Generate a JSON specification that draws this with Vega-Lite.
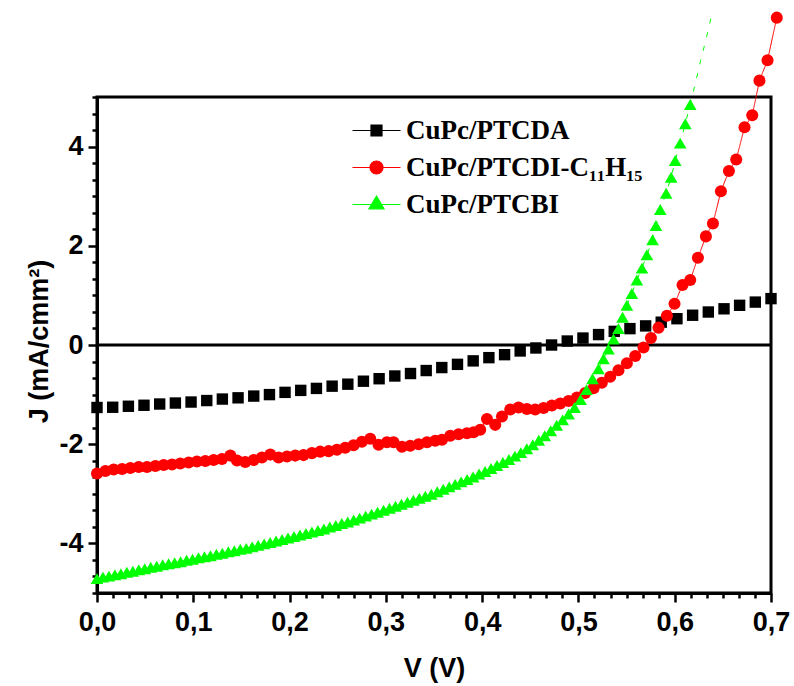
{
  "$schema": "https://vega.github.io/schema/vega-lite/v6.json",
  "autosize": {"type": "none"},
  "padding": {"left": 97, "top": 97, "right": 23, "bottom": 93},
  "width": 674,
  "height": 496,
  "background": "white",
  "config": {
    "view": {"stroke": "black", "strokeWidth": 3},
    "axis": {"grid": false}
  },
  "data": {"values": [
    {"series": "CuPc/PTCDA", "V": 0.0000, "J": -1.26},
    {"series": "CuPc/PTCDA", "V": 0.0163, "J": -1.255},
    {"series": "CuPc/PTCDA", "V": 0.0326, "J": -1.235},
    {"series": "CuPc/PTCDA", "V": 0.0488, "J": -1.215},
    {"series": "CuPc/PTCDA", "V": 0.0651, "J": -1.19},
    {"series": "CuPc/PTCDA", "V": 0.0814, "J": -1.17},
    {"series": "CuPc/PTCDA", "V": 0.0977, "J": -1.15},
    {"series": "CuPc/PTCDA", "V": 0.1140, "J": -1.12},
    {"series": "CuPc/PTCDA", "V": 0.1302, "J": -1.09},
    {"series": "CuPc/PTCDA", "V": 0.1465, "J": -1.065},
    {"series": "CuPc/PTCDA", "V": 0.1628, "J": -1.03},
    {"series": "CuPc/PTCDA", "V": 0.1791, "J": -1.0},
    {"series": "CuPc/PTCDA", "V": 0.1953, "J": -0.955},
    {"series": "CuPc/PTCDA", "V": 0.2116, "J": -0.915},
    {"series": "CuPc/PTCDA", "V": 0.2279, "J": -0.875},
    {"series": "CuPc/PTCDA", "V": 0.2442, "J": -0.83},
    {"series": "CuPc/PTCDA", "V": 0.2605, "J": -0.79},
    {"series": "CuPc/PTCDA", "V": 0.2767, "J": -0.73},
    {"series": "CuPc/PTCDA", "V": 0.2930, "J": -0.68},
    {"series": "CuPc/PTCDA", "V": 0.3093, "J": -0.625},
    {"series": "CuPc/PTCDA", "V": 0.3256, "J": -0.575},
    {"series": "CuPc/PTCDA", "V": 0.3419, "J": -0.515},
    {"series": "CuPc/PTCDA", "V": 0.3581, "J": -0.455},
    {"series": "CuPc/PTCDA", "V": 0.3744, "J": -0.39},
    {"series": "CuPc/PTCDA", "V": 0.3907, "J": -0.32},
    {"series": "CuPc/PTCDA", "V": 0.4070, "J": -0.255},
    {"series": "CuPc/PTCDA", "V": 0.4233, "J": -0.195},
    {"series": "CuPc/PTCDA", "V": 0.4395, "J": -0.12},
    {"series": "CuPc/PTCDA", "V": 0.4558, "J": -0.06},
    {"series": "CuPc/PTCDA", "V": 0.4721, "J": 0.0},
    {"series": "CuPc/PTCDA", "V": 0.4884, "J": 0.08},
    {"series": "CuPc/PTCDA", "V": 0.5047, "J": 0.14},
    {"series": "CuPc/PTCDA", "V": 0.5209, "J": 0.21},
    {"series": "CuPc/PTCDA", "V": 0.5372, "J": 0.275},
    {"series": "CuPc/PTCDA", "V": 0.5535, "J": 0.33},
    {"series": "CuPc/PTCDA", "V": 0.5698, "J": 0.385},
    {"series": "CuPc/PTCDA", "V": 0.5860, "J": 0.46},
    {"series": "CuPc/PTCDA", "V": 0.6023, "J": 0.53},
    {"series": "CuPc/PTCDA", "V": 0.6186, "J": 0.6},
    {"series": "CuPc/PTCDA", "V": 0.6349, "J": 0.665},
    {"series": "CuPc/PTCDA", "V": 0.6512, "J": 0.73},
    {"series": "CuPc/PTCDA", "V": 0.6674, "J": 0.8},
    {"series": "CuPc/PTCDA", "V": 0.6837, "J": 0.865},
    {"series": "CuPc/PTCDA", "V": 0.7000, "J": 0.935},

    {"series": "CuPc/PTCDI-C₁₁H₁₅", "V": 0.0000, "J": -2.59},
    {"series": "CuPc/PTCDI-C₁₁H₁₅", "V": 0.0087, "J": -2.54},
    {"series": "CuPc/PTCDI-C₁₁H₁₅", "V": 0.0173, "J": -2.51},
    {"series": "CuPc/PTCDI-C₁₁H₁₅", "V": 0.0260, "J": -2.50},
    {"series": "CuPc/PTCDI-C₁₁H₁₅", "V": 0.0346, "J": -2.48},
    {"series": "CuPc/PTCDI-C₁₁H₁₅", "V": 0.0433, "J": -2.46},
    {"series": "CuPc/PTCDI-C₁₁H₁₅", "V": 0.0519, "J": -2.46},
    {"series": "CuPc/PTCDI-C₁₁H₁₅", "V": 0.0606, "J": -2.44},
    {"series": "CuPc/PTCDI-C₁₁H₁₅", "V": 0.0692, "J": -2.42},
    {"series": "CuPc/PTCDI-C₁₁H₁₅", "V": 0.0779, "J": -2.41},
    {"series": "CuPc/PTCDI-C₁₁H₁₅", "V": 0.0865, "J": -2.39},
    {"series": "CuPc/PTCDI-C₁₁H₁₅", "V": 0.0952, "J": -2.37},
    {"series": "CuPc/PTCDI-C₁₁H₁₅", "V": 0.1038, "J": -2.35},
    {"series": "CuPc/PTCDI-C₁₁H₁₅", "V": 0.1125, "J": -2.34},
    {"series": "CuPc/PTCDI-C₁₁H₁₅", "V": 0.1211, "J": -2.32},
    {"series": "CuPc/PTCDI-C₁₁H₁₅", "V": 0.1298, "J": -2.30},
    {"series": "CuPc/PTCDI-C₁₁H₁₅", "V": 0.1385, "J": -2.23},
    {"series": "CuPc/PTCDI-C₁₁H₁₅", "V": 0.1454, "J": -2.33},
    {"series": "CuPc/PTCDI-C₁₁H₁₅", "V": 0.1540, "J": -2.36},
    {"series": "CuPc/PTCDI-C₁₁H₁₅", "V": 0.1627, "J": -2.32},
    {"series": "CuPc/PTCDI-C₁₁H₁₅", "V": 0.1713, "J": -2.27},
    {"series": "CuPc/PTCDI-C₁₁H₁₅", "V": 0.1800, "J": -2.21},
    {"series": "CuPc/PTCDI-C₁₁H₁₅", "V": 0.1886, "J": -2.27},
    {"series": "CuPc/PTCDI-C₁₁H₁₅", "V": 0.1973, "J": -2.25},
    {"series": "CuPc/PTCDI-C₁₁H₁₅", "V": 0.2059, "J": -2.23},
    {"series": "CuPc/PTCDI-C₁₁H₁₅", "V": 0.2145, "J": -2.22},
    {"series": "CuPc/PTCDI-C₁₁H₁₅", "V": 0.2232, "J": -2.18},
    {"series": "CuPc/PTCDI-C₁₁H₁₅", "V": 0.2318, "J": -2.15},
    {"series": "CuPc/PTCDI-C₁₁H₁₅", "V": 0.2405, "J": -2.14},
    {"series": "CuPc/PTCDI-C₁₁H₁₅", "V": 0.2491, "J": -2.11},
    {"series": "CuPc/PTCDI-C₁₁H₁₅", "V": 0.2578, "J": -2.07},
    {"series": "CuPc/PTCDI-C₁₁H₁₅", "V": 0.2664, "J": -2.02},
    {"series": "CuPc/PTCDI-C₁₁H₁₅", "V": 0.2751, "J": -1.95},
    {"series": "CuPc/PTCDI-C₁₁H₁₅", "V": 0.2838, "J": -1.89},
    {"series": "CuPc/PTCDI-C₁₁H₁₅", "V": 0.2924, "J": -2.01},
    {"series": "CuPc/PTCDI-C₁₁H₁₅", "V": 0.3011, "J": -1.96},
    {"series": "CuPc/PTCDI-C₁₁H₁₅", "V": 0.3080, "J": -1.96},
    {"series": "CuPc/PTCDI-C₁₁H₁₅", "V": 0.3167, "J": -2.05},
    {"series": "CuPc/PTCDI-C₁₁H₁₅", "V": 0.3253, "J": -2.03},
    {"series": "CuPc/PTCDI-C₁₁H₁₅", "V": 0.3340, "J": -2.00},
    {"series": "CuPc/PTCDI-C₁₁H₁₅", "V": 0.3427, "J": -1.96},
    {"series": "CuPc/PTCDI-C₁₁H₁₅", "V": 0.3513, "J": -1.93},
    {"series": "CuPc/PTCDI-C₁₁H₁₅", "V": 0.3583, "J": -1.91},
    {"series": "CuPc/PTCDI-C₁₁H₁₅", "V": 0.3669, "J": -1.83},
    {"series": "CuPc/PTCDI-C₁₁H₁₅", "V": 0.3755, "J": -1.80},
    {"series": "CuPc/PTCDI-C₁₁H₁₅", "V": 0.3842, "J": -1.78},
    {"series": "CuPc/PTCDI-C₁₁H₁₅", "V": 0.3911, "J": -1.76},
    {"series": "CuPc/PTCDI-C₁₁H₁₅", "V": 0.3980, "J": -1.71},
    {"series": "CuPc/PTCDI-C₁₁H₁₅", "V": 0.4050, "J": -1.49},
    {"series": "CuPc/PTCDI-C₁₁H₁₅", "V": 0.4136, "J": -1.61},
    {"series": "CuPc/PTCDI-C₁₁H₁₅", "V": 0.4206, "J": -1.44},
    {"series": "CuPc/PTCDI-C₁₁H₁₅", "V": 0.4292, "J": -1.30},
    {"series": "CuPc/PTCDI-C₁₁H₁₅", "V": 0.4378, "J": -1.26},
    {"series": "CuPc/PTCDI-C₁₁H₁₅", "V": 0.4465, "J": -1.29},
    {"series": "CuPc/PTCDI-C₁₁H₁₅", "V": 0.4551, "J": -1.30},
    {"series": "CuPc/PTCDI-C₁₁H₁₅", "V": 0.4638, "J": -1.27},
    {"series": "CuPc/PTCDI-C₁₁H₁₅", "V": 0.4724, "J": -1.22},
    {"series": "CuPc/PTCDI-C₁₁H₁₅", "V": 0.4811, "J": -1.18},
    {"series": "CuPc/PTCDI-C₁₁H₁₅", "V": 0.4897, "J": -1.13},
    {"series": "CuPc/PTCDI-C₁₁H₁₅", "V": 0.4984, "J": -1.06},
    {"series": "CuPc/PTCDI-C₁₁H₁₅", "V": 0.5070, "J": -0.97},
    {"series": "CuPc/PTCDI-C₁₁H₁₅", "V": 0.5157, "J": -0.87},
    {"series": "CuPc/PTCDI-C₁₁H₁₅", "V": 0.5243, "J": -0.76},
    {"series": "CuPc/PTCDI-C₁₁H₁₅", "V": 0.5330, "J": -0.64},
    {"series": "CuPc/PTCDI-C₁₁H₁₅", "V": 0.5416, "J": -0.51},
    {"series": "CuPc/PTCDI-C₁₁H₁₅", "V": 0.5503, "J": -0.37},
    {"series": "CuPc/PTCDI-C₁₁H₁₅", "V": 0.5590, "J": -0.22},
    {"series": "CuPc/PTCDI-C₁₁H₁₅", "V": 0.5676, "J": -0.05},
    {"series": "CuPc/PTCDI-C₁₁H₁₅", "V": 0.5753, "J": 0.14},
    {"series": "CuPc/PTCDI-C₁₁H₁₅", "V": 0.5832, "J": 0.35},
    {"series": "CuPc/PTCDI-C₁₁H₁₅", "V": 0.5919, "J": 0.59},
    {"series": "CuPc/PTCDI-C₁₁H₁₅", "V": 0.5998, "J": 0.83},
    {"series": "CuPc/PTCDI-C₁₁H₁₅", "V": 0.6081, "J": 1.21},
    {"series": "CuPc/PTCDI-C₁₁H₁₅", "V": 0.6161, "J": 1.31},
    {"series": "CuPc/PTCDI-C₁₁H₁₅", "V": 0.6241, "J": 1.76},
    {"series": "CuPc/PTCDI-C₁₁H₁₅", "V": 0.6324, "J": 2.19},
    {"series": "CuPc/PTCDI-C₁₁H₁₅", "V": 0.6397, "J": 2.45},
    {"series": "CuPc/PTCDI-C₁₁H₁₅", "V": 0.6480, "J": 3.10},
    {"series": "CuPc/PTCDI-C₁₁H₁₅", "V": 0.6563, "J": 3.51},
    {"series": "CuPc/PTCDI-C₁₁H₁₅", "V": 0.6639, "J": 3.74},
    {"series": "CuPc/PTCDI-C₁₁H₁₅", "V": 0.6725, "J": 4.39},
    {"series": "CuPc/PTCDI-C₁₁H₁₅", "V": 0.6805, "J": 4.63},
    {"series": "CuPc/PTCDI-C₁₁H₁₅", "V": 0.6880, "J": 5.33},
    {"series": "CuPc/PTCDI-C₁₁H₁₅", "V": 0.6964, "J": 5.74},
    {"series": "CuPc/PTCDI-C₁₁H₁₅", "V": 0.7060, "J": 6.60},

    {"series": "CuPc/PTCBI", "V": 0.0000, "J": -4.71},
    {"series": "CuPc/PTCBI", "V": 0.0062, "J": -4.68},
    {"series": "CuPc/PTCBI", "V": 0.0124, "J": -4.66},
    {"series": "CuPc/PTCBI", "V": 0.0186, "J": -4.63},
    {"series": "CuPc/PTCBI", "V": 0.0248, "J": -4.61},
    {"series": "CuPc/PTCBI", "V": 0.0310, "J": -4.58},
    {"series": "CuPc/PTCBI", "V": 0.0372, "J": -4.56},
    {"series": "CuPc/PTCBI", "V": 0.0434, "J": -4.53},
    {"series": "CuPc/PTCBI", "V": 0.0496, "J": -4.51},
    {"series": "CuPc/PTCBI", "V": 0.0558, "J": -4.48},
    {"series": "CuPc/PTCBI", "V": 0.0620, "J": -4.46},
    {"series": "CuPc/PTCBI", "V": 0.0682, "J": -4.43},
    {"series": "CuPc/PTCBI", "V": 0.0744, "J": -4.41},
    {"series": "CuPc/PTCBI", "V": 0.0806, "J": -4.39},
    {"series": "CuPc/PTCBI", "V": 0.0868, "J": -4.37},
    {"series": "CuPc/PTCBI", "V": 0.0930, "J": -4.34},
    {"series": "CuPc/PTCBI", "V": 0.0992, "J": -4.32},
    {"series": "CuPc/PTCBI", "V": 0.1054, "J": -4.29},
    {"series": "CuPc/PTCBI", "V": 0.1116, "J": -4.27},
    {"series": "CuPc/PTCBI", "V": 0.1178, "J": -4.25},
    {"series": "CuPc/PTCBI", "V": 0.1240, "J": -4.22},
    {"series": "CuPc/PTCBI", "V": 0.1302, "J": -4.20},
    {"series": "CuPc/PTCBI", "V": 0.1364, "J": -4.17},
    {"series": "CuPc/PTCBI", "V": 0.1426, "J": -4.15},
    {"series": "CuPc/PTCBI", "V": 0.1488, "J": -4.12},
    {"series": "CuPc/PTCBI", "V": 0.1550, "J": -4.10},
    {"series": "CuPc/PTCBI", "V": 0.1612, "J": -4.07},
    {"series": "CuPc/PTCBI", "V": 0.1674, "J": -4.04},
    {"series": "CuPc/PTCBI", "V": 0.1736, "J": -4.01},
    {"series": "CuPc/PTCBI", "V": 0.1798, "J": -3.98},
    {"series": "CuPc/PTCBI", "V": 0.1860, "J": -3.95},
    {"series": "CuPc/PTCBI", "V": 0.1922, "J": -3.92},
    {"series": "CuPc/PTCBI", "V": 0.1984, "J": -3.89},
    {"series": "CuPc/PTCBI", "V": 0.2046, "J": -3.86},
    {"series": "CuPc/PTCBI", "V": 0.2108, "J": -3.83},
    {"series": "CuPc/PTCBI", "V": 0.2170, "J": -3.80},
    {"series": "CuPc/PTCBI", "V": 0.2232, "J": -3.77},
    {"series": "CuPc/PTCBI", "V": 0.2294, "J": -3.74},
    {"series": "CuPc/PTCBI", "V": 0.2356, "J": -3.71},
    {"series": "CuPc/PTCBI", "V": 0.2418, "J": -3.67},
    {"series": "CuPc/PTCBI", "V": 0.2480, "J": -3.64},
    {"series": "CuPc/PTCBI", "V": 0.2542, "J": -3.60},
    {"series": "CuPc/PTCBI", "V": 0.2604, "J": -3.57},
    {"series": "CuPc/PTCBI", "V": 0.2666, "J": -3.53},
    {"series": "CuPc/PTCBI", "V": 0.2728, "J": -3.49},
    {"series": "CuPc/PTCBI", "V": 0.2790, "J": -3.45},
    {"series": "CuPc/PTCBI", "V": 0.2852, "J": -3.41},
    {"series": "CuPc/PTCBI", "V": 0.2914, "J": -3.37},
    {"series": "CuPc/PTCBI", "V": 0.2976, "J": -3.33},
    {"series": "CuPc/PTCBI", "V": 0.3038, "J": -3.29},
    {"series": "CuPc/PTCBI", "V": 0.3100, "J": -3.25},
    {"series": "CuPc/PTCBI", "V": 0.3162, "J": -3.21},
    {"series": "CuPc/PTCBI", "V": 0.3224, "J": -3.17},
    {"series": "CuPc/PTCBI", "V": 0.3286, "J": -3.13},
    {"series": "CuPc/PTCBI", "V": 0.3348, "J": -3.09},
    {"series": "CuPc/PTCBI", "V": 0.3410, "J": -3.05},
    {"series": "CuPc/PTCBI", "V": 0.3472, "J": -3.01},
    {"series": "CuPc/PTCBI", "V": 0.3534, "J": -2.96},
    {"series": "CuPc/PTCBI", "V": 0.3596, "J": -2.91},
    {"series": "CuPc/PTCBI", "V": 0.3658, "J": -2.86},
    {"series": "CuPc/PTCBI", "V": 0.3720, "J": -2.81},
    {"series": "CuPc/PTCBI", "V": 0.3782, "J": -2.76},
    {"series": "CuPc/PTCBI", "V": 0.3844, "J": -2.71},
    {"series": "CuPc/PTCBI", "V": 0.3906, "J": -2.66},
    {"series": "CuPc/PTCBI", "V": 0.3968, "J": -2.60},
    {"series": "CuPc/PTCBI", "V": 0.4030, "J": -2.55},
    {"series": "CuPc/PTCBI", "V": 0.4092, "J": -2.49},
    {"series": "CuPc/PTCBI", "V": 0.4154, "J": -2.43},
    {"series": "CuPc/PTCBI", "V": 0.4216, "J": -2.37},
    {"series": "CuPc/PTCBI", "V": 0.4278, "J": -2.31},
    {"series": "CuPc/PTCBI", "V": 0.4340, "J": -2.24},
    {"series": "CuPc/PTCBI", "V": 0.4402, "J": -2.17},
    {"series": "CuPc/PTCBI", "V": 0.4464, "J": -2.09},
    {"series": "CuPc/PTCBI", "V": 0.4526, "J": -2.01},
    {"series": "CuPc/PTCBI", "V": 0.4588, "J": -1.92},
    {"series": "CuPc/PTCBI", "V": 0.4650, "J": -1.83},
    {"series": "CuPc/PTCBI", "V": 0.4712, "J": -1.73},
    {"series": "CuPc/PTCBI", "V": 0.4774, "J": -1.62},
    {"series": "CuPc/PTCBI", "V": 0.4836, "J": -1.51},
    {"series": "CuPc/PTCBI", "V": 0.4898, "J": -1.39},
    {"series": "CuPc/PTCBI", "V": 0.4960, "J": -1.26},
    {"series": "CuPc/PTCBI", "V": 0.5022, "J": -1.10},
    {"series": "CuPc/PTCBI", "V": 0.5084, "J": -0.90},
    {"series": "CuPc/PTCBI", "V": 0.5146, "J": -0.68},
    {"series": "CuPc/PTCBI", "V": 0.5208, "J": -0.48},
    {"series": "CuPc/PTCBI", "V": 0.5260, "J": -0.28},
    {"series": "CuPc/PTCBI", "V": 0.5312, "J": -0.08},
    {"series": "CuPc/PTCBI", "V": 0.5364, "J": 0.12},
    {"series": "CuPc/PTCBI", "V": 0.5416, "J": 0.33},
    {"series": "CuPc/PTCBI", "V": 0.5458, "J": 0.56},
    {"series": "CuPc/PTCBI", "V": 0.5503, "J": 0.80},
    {"series": "CuPc/PTCBI", "V": 0.5555, "J": 1.04},
    {"series": "CuPc/PTCBI", "V": 0.5607, "J": 1.31},
    {"series": "CuPc/PTCBI", "V": 0.5660, "J": 1.55},
    {"series": "CuPc/PTCBI", "V": 0.5711, "J": 1.82},
    {"series": "CuPc/PTCBI", "V": 0.5770, "J": 2.12},
    {"series": "CuPc/PTCBI", "V": 0.5805, "J": 2.41},
    {"series": "CuPc/PTCBI", "V": 0.5850, "J": 2.73},
    {"series": "CuPc/PTCBI", "V": 0.5911, "J": 3.06},
    {"series": "CuPc/PTCBI", "V": 0.5963, "J": 3.38},
    {"series": "CuPc/PTCBI", "V": 0.6005, "J": 3.72},
    {"series": "CuPc/PTCBI", "V": 0.6057, "J": 4.07},
    {"series": "CuPc/PTCBI", "V": 0.6110, "J": 4.46},
    {"series": "CuPc/PTCBI", "V": 0.6161, "J": 4.85},
    {"series": "CuPc/PTCBI", "V": 0.6215, "J": 5.28},
    {"series": "CuPc/PTCBI", "V": 0.6270, "J": 5.74},
    {"series": "CuPc/PTCBI", "V": 0.6330, "J": 6.20},
    {"series": "CuPc/PTCBI", "V": 0.6386, "J": 6.67}
  ]},
  "encoding": {
    "x": {
      "field": "V", "type": "quantitative",
      "scale": {"domain": [0, 0.7], "nice": false, "zero": false},
      "axis": {
        "title": "V (V)",
        "values": [0, 0.016667, 0.033333, 0.05, 0.066667, 0.083333, 0.1, 0.116667, 0.133333, 0.15, 0.166667, 0.183333, 0.2, 0.216667, 0.233333, 0.25, 0.266667, 0.283333, 0.3, 0.316667, 0.333333, 0.35, 0.366667, 0.383333, 0.4, 0.416667, 0.433333, 0.45, 0.466667, 0.483333, 0.5, 0.516667, 0.533333, 0.55, 0.566667, 0.583333, 0.6, 0.616667, 0.633333, 0.65, 0.666667, 0.683333, 0.7],
        "labelExpr": "abs(datum.value*10 - round(datum.value*10)) < 0.01 ? replace(format(datum.value, '.1f'), '.', ',') : ''",
        "labelOverlap": false,
        "labelBound": false,
        "labelFlush": false,
        "labelFont": "Liberation Sans",
        "labelFontWeight": "bold",
        "labelFontSize": 27,
        "labelColor": "black",
        "labelPadding": 7,
        "tickColor": "black",
        "tickWidth": 2.5,
        "tickSize": {"condition": {"test": "abs(datum.value*10 - round(datum.value*10)) < 0.01", "value": 9}, "value": 5},
        "domainColor": "black",
        "domainWidth": 3,
        "titleFont": "Liberation Sans",
        "titleFontWeight": "bold",
        "titleFontSize": 27,
        "titleColor": "black",
        "titleBaseline": "top",
        "titleY": 62
      }
    },
    "y": {
      "field": "J", "type": "quantitative",
      "scale": {"domain": [-5, 5], "nice": false, "zero": false},
      "axis": {
        "title": "J (mA/cmm²)",
        "values": [-5, -4.666667, -4.333333, -4, -3.666667, -3.333333, -3, -2.666667, -2.333333, -2, -1.666667, -1.333333, -1, -0.666667, -0.333333, 0, 0.333333, 0.666667, 1, 1.333333, 1.666667, 2, 2.333333, 2.666667, 3, 3.333333, 3.666667, 4, 4.333333, 4.666667, 5],
        "labelExpr": "abs(datum.value/2 - round(datum.value/2)) < 0.01 && abs(datum.value) < 4.5 ? '' + round(datum.value) : ''",
        "labelOverlap": false,
        "labelBound": false,
        "labelFlush": false,
        "labelFont": "Liberation Sans",
        "labelFontWeight": "bold",
        "labelFontSize": 27,
        "labelColor": "black",
        "labelPadding": 5,
        "tickColor": "black",
        "tickWidth": 2.5,
        "tickSize": {"condition": {"test": "abs(datum.value/2 - round(datum.value/2)) < 0.01 && abs(datum.value) < 4.5", "value": 9}, "value": 5},
        "domainColor": "black",
        "domainWidth": 3,
        "titleFont": "Liberation Sans",
        "titleFontWeight": "bold",
        "titleFontSize": 27,
        "titleColor": "black",
        "titleAngle": -90,
        "titleBaseline": "alphabetic",
        "titleAlign": "center",
        "titleX": -50,
        "titleY": 244
      }
    }
  },
  "layer": [
    {
      "data": {"values": [{"level": 0}]},
      "mark": {"type": "rule", "color": "black", "strokeWidth": 3},
      "encoding": {"y": {"field": "level", "type": "quantitative"}, "x": null}
    },
    {
      "transform": [{"filter": "datum.series != 'CuPc/PTCDA'"}],
      "mark": {"type": "line", "strokeWidth": 1},
      "encoding": {
        "color": {"field": "series", "type": "nominal", "scale": {"domain": ["CuPc/PTCDA", "CuPc/PTCDI-C₁₁H₁₅", "CuPc/PTCBI"], "range": ["#000000", "#ff0000", "#00ff00"]}, "legend": null},
        "strokeDash": {"field": "series", "type": "nominal", "scale": {"domain": ["CuPc/PTCDI-C₁₁H₁₅", "CuPc/PTCBI"], "range": [[1, 0], [5, 9]]}, "legend": null}
      }
    },
    {
      "transform": [{"filter": "datum.series != 'CuPc/PTCBI' || datum.J <= 5"}],
      "mark": {"type": "point", "filled": true, "opacity": 1},
      "encoding": {
        "color": {"field": "series", "type": "nominal", "scale": {"domain": ["CuPc/PTCDA", "CuPc/PTCDI-C₁₁H₁₅", "CuPc/PTCBI"], "range": ["#000000", "#ff0000", "#00ff00"]}, "legend": null},
        "shape": {"field": "series", "type": "nominal", "scale": {"domain": ["CuPc/PTCDA", "CuPc/PTCDI-C₁₁H₁₅", "CuPc/PTCBI"], "range": ["square", "circle", "triangle-up"]}, "legend": null},
        "size": {"field": "series", "type": "nominal", "scale": {"domain": ["CuPc/PTCDA", "CuPc/PTCDI-C₁₁H₁₅", "CuPc/PTCBI"], "range": [130, 160, 180]}, "legend": null}
      }
    },
    {
      "transform": [{"filter": "datum.V == 0"}],
      "mark": {"type": "point", "filled": true, "opacity": 0},
      "encoding": {
        "fill": {"field": "series", "type": "nominal", "scale": {"domain": ["CuPc/PTCDA", "CuPc/PTCDI-C₁₁H₁₅", "CuPc/PTCBI"], "range": ["#000000", "#ff0000", "#00ff00"]},
          "legend": {"title": null, "orient": "none", "legendX": 266, "legendY": 20, "padding": 0, "rowPadding": 9, "labelOffset": 16, "symbolSize": 400, "symbolOpacity": 1, "symbolStrokeWidth": 1.2, "labelFont": "Liberation Serif", "labelFontWeight": "bold", "labelFontSize": 27, "labelColor": "black", "labelLimit": 0}},
        "stroke": {"field": "series", "type": "nominal", "scale": {"domain": ["CuPc/PTCDA", "CuPc/PTCDI-C₁₁H₁₅", "CuPc/PTCBI"], "range": ["#000000", "#ff0000", "#00ff00"]},
          "legend": {"title": null, "orient": "none", "legendX": 266, "legendY": 20, "padding": 0, "rowPadding": 9, "labelOffset": 16, "symbolSize": 400, "symbolOpacity": 1, "symbolStrokeWidth": 1.2, "labelFont": "Liberation Serif", "labelFontWeight": "bold", "labelFontSize": 27, "labelColor": "black", "labelLimit": 0}},
        "shape": {"field": "series", "type": "nominal", "scale": {"domain": ["CuPc/PTCDA", "CuPc/PTCDI-C₁₁H₁₅", "CuPc/PTCBI"], "range": [
          "M-2.4,0H-0.55M0.55,0H2.4M-0.55,-0.55H0.55V0.55H-0.55Z",
          "M-2.4,0H-0.65M0.65,0H2.4M-0.65,0A0.65,0.65,0,1,1,0.65,0A0.65,0.65,0,1,1,-0.65,0Z",
          "M-2.4,0H-0.5M0.5,0H2.4M0,-0.84L0.75,0.43L-0.75,0.43Z"
        ]},
          "legend": {"title": null, "orient": "none", "legendX": 266, "legendY": 20, "padding": 0, "rowPadding": 9, "labelOffset": 16, "symbolSize": 400, "symbolOpacity": 1, "symbolStrokeWidth": 1.2, "labelFont": "Liberation Serif", "labelFontWeight": "bold", "labelFontSize": 27, "labelColor": "black", "labelLimit": 0}}
      }
    }
  ],
  "resolve": {"scale": {"shape": "independent", "fill": "independent", "stroke": "independent"}}
}
